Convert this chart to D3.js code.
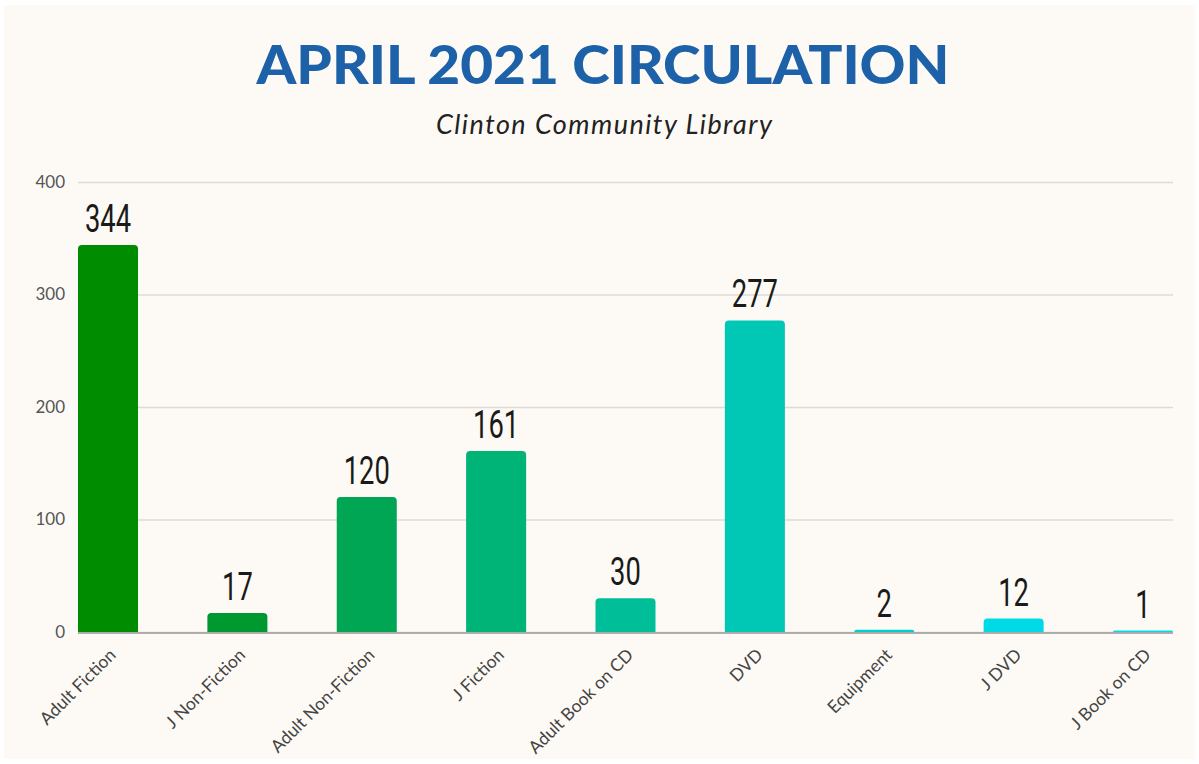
<!DOCTYPE html>
<html>
<head>
<meta charset="utf-8">
<script src="https://cdn.jsdelivr.net/npm/d3@7"></script>
<style>
  body { margin: 0; background: #ffffff; }
  svg { display: block; }
</style>
</head>
<body>
<svg id="chart" width="1199" height="764"></svg>
<script>
const categories = ["Adult Fiction", "J Non-Fiction", "Adult Non-Fiction", "J Fiction", "Adult Book on CD", "DVD", "Equipment", "J DVD", "J Book on CD"];
const values = [344, 17, 120, 161, 30, 277, 2, 12, 1];
const barColors = ["#008c00", "#00992f", "#00a653", "#00b377", "#00be97", "#00c8b4", "#00d0cc", "#00d9e6", "#00dcec"];
const yTicks = [0, 100, 200, 300, 400];

const data = categories.map((c, i) => ({ cat: c, value: values[i], color: barColors[i] }));

const width = 1199, height = 764;
const margin = { top: 182, right: 26, bottom: 132, left: 78 };

const svg = d3.select("#chart");

svg.append("rect")
    .attr("x", 4).attr("y", 5)
    .attr("width", width - 8).attr("height", height - 10)
    .attr("fill", "#fdfaf5");

// title + subtitle
svg.append("text")
    .attr("x", 603).attr("y", 84)
    .attr("text-anchor", "middle")
    .attr("textLength", 693)
    .attr("lengthAdjust", "spacingAndGlyphs")
    .style("font-family", "Lato")
    .style("font-weight", 900)
    .style("font-size", "54px")
    .style("fill", "#1d61a9")
    .text("APRIL 2021 CIRCULATION");

svg.append("text")
    .attr("x", 604).attr("y", 134)
    .attr("text-anchor", "middle")
    .attr("textLength", 336)
    .attr("lengthAdjust", "spacing")
    .style("font-family", "Lato")
    .style("font-style", "italic")
    .style("font-size", "27px")
    .style("fill", "#222")
    .text("Clinton Community Library");

const x = d3.scaleBand()
    .domain(categories)
    .range([margin.left, width - margin.right])
    .paddingInner(0.536)
    .paddingOuter(0);

const y = d3.scaleLinear()
    .domain([0, 400])
    .range([height - margin.bottom, margin.top]);

// gridlines
svg.append("g")
    .attr("transform", `translate(${margin.left},0)`)
    .call(d3.axisLeft(y).tickValues(yTicks).tickSize(-(width - margin.right - margin.left)).tickPadding(13))
    .call(g => g.select(".domain").remove())
    .call(g => g.selectAll(".tick line").attr("stroke", "#dedbd6").attr("stroke-width", 1.5))
    .call(g => g.selectAll(".tick text")
        .style("font-family", "Lato")
        .style("font-size", "17px")
        .style("fill", "#555"));

// baseline (under the bars so the tiny ones still show)
svg.append("line")
    .attr("x1", margin.left).attr("x2", width - margin.right)
    .attr("y1", y(0) + 1).attr("y2", y(0) + 1)
    .attr("stroke", "#9a9a9a")
    .attr("stroke-width", 1.5);

// bars, rounded on top
const r = 4;
svg.selectAll(".bar")
    .data(data)
    .enter()
    .append("path")
    .attr("class", "bar")
    .attr("fill", d => d.color)
    .attr("d", d => {
        const x0 = x(d.cat), w = x.bandwidth();
        const y0 = Math.min(y(d.value), y(0) - 1.5), y1 = y(0);
        const rr = Math.min(r, (y1 - y0));
        return `M${x0},${y1}V${y0 + rr}Q${x0},${y0} ${x0 + rr},${y0}H${x0 + w - rr}Q${x0 + w},${y0} ${x0 + w},${y0 + rr}V${y1}Z`;
    });

// value labels (condensed look via horizontal squeeze)
svg.selectAll(".val")
    .data(data)
    .enter()
    .append("text")
    .attr("class", "val")
    .attr("transform", d => `translate(${x(d.cat) + x.bandwidth() / 2},${y(d.value) - 13}) scale(0.72,1)`)
    .attr("text-anchor", "middle")
    .style("font-family", "Roboto")
    .style("font-size", "38px")
    .style("fill", "#1a1a1a")
    .text(d => d.value);

// category labels
svg.selectAll(".cat")
    .data(data)
    .enter()
    .append("text")
    .attr("class", "cat")
    .attr("transform", d => `translate(${x(d.cat) + x.bandwidth() / 2 + 9},${y(0) + 24}) rotate(-45)`)
    .attr("text-anchor", "end")
    .style("font-family", "Lato")
    .style("font-size", "17.5px")
    .style("fill", "#444")
    .text(d => d.cat);
</script>
</body>
</html>
